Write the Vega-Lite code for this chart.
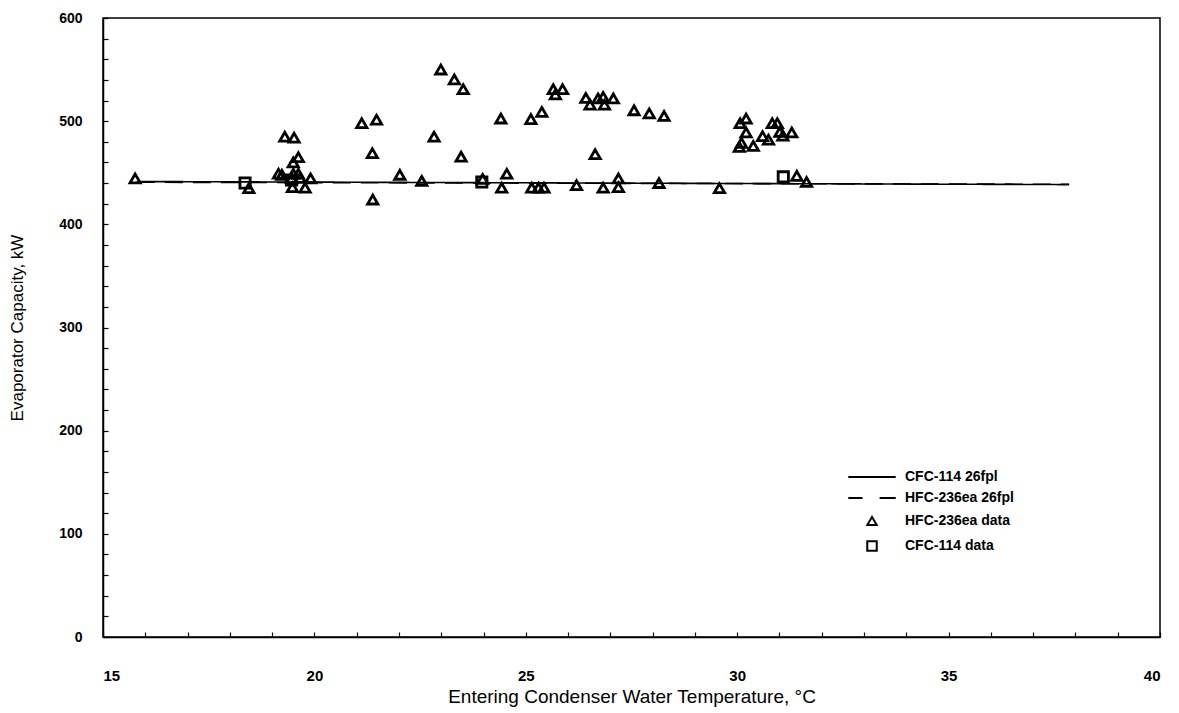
{
  "$schema": "https://vega.github.io/schema/vega-lite/v6.json",
  "width": 1057,
  "height": 619,
  "autosize": {"type": "none"},
  "padding": {"left": 103, "top": 18, "right": 19, "bottom": 76},
  "background": "white",
  "config": {
    "view": {"stroke": "black", "strokeWidth": 1.5},
    "font": "Liberation Sans",
    "axis": {
      "grid": false,
      "domainColor": "black",
      "domainWidth": 1.5,
      "tickColor": "black",
      "tickWidth": 1.2,
      "tickSize": -5,
      "labelColor": "black",
      "titleColor": "black",
      "labelFont": "Liberation Sans",
      "labelFontWeight": "bold",
      "titleFont": "Liberation Sans",
      "titleFontWeight": "normal"
    }
  },
  "datasets": {
    "points": [
      {"series": "HFC-236ea data", "temp": 15.76, "capacity": 444.5},
      {"series": "HFC-236ea data", "temp": 18.45, "capacity": 435},
      {"series": "HFC-236ea data", "temp": 19.30, "capacity": 485},
      {"series": "HFC-236ea data", "temp": 19.52, "capacity": 484},
      {"series": "HFC-236ea data", "temp": 19.62, "capacity": 465},
      {"series": "HFC-236ea data", "temp": 19.50, "capacity": 460},
      {"series": "HFC-236ea data", "temp": 19.15, "capacity": 449},
      {"series": "HFC-236ea data", "temp": 19.23, "capacity": 448},
      {"series": "HFC-236ea data", "temp": 19.50, "capacity": 449},
      {"series": "HFC-236ea data", "temp": 19.62, "capacity": 449},
      {"series": "HFC-236ea data", "temp": 19.46, "capacity": 444.5},
      {"series": "HFC-236ea data", "temp": 19.66, "capacity": 445},
      {"series": "HFC-236ea data", "temp": 19.48, "capacity": 436},
      {"series": "HFC-236ea data", "temp": 19.91, "capacity": 444.5},
      {"series": "HFC-236ea data", "temp": 19.78, "capacity": 435.5},
      {"series": "HFC-236ea data", "temp": 21.12, "capacity": 498},
      {"series": "HFC-236ea data", "temp": 21.47, "capacity": 501.5},
      {"series": "HFC-236ea data", "temp": 21.37, "capacity": 469},
      {"series": "HFC-236ea data", "temp": 21.38, "capacity": 424},
      {"series": "HFC-236ea data", "temp": 22.02, "capacity": 448},
      {"series": "HFC-236ea data", "temp": 22.54, "capacity": 442},
      {"series": "HFC-236ea data", "temp": 22.99, "capacity": 550},
      {"series": "HFC-236ea data", "temp": 23.31, "capacity": 540.5},
      {"series": "HFC-236ea data", "temp": 23.52, "capacity": 531},
      {"series": "HFC-236ea data", "temp": 22.83, "capacity": 485},
      {"series": "HFC-236ea data", "temp": 23.47, "capacity": 465.5},
      {"series": "HFC-236ea data", "temp": 24.41, "capacity": 502.5},
      {"series": "HFC-236ea data", "temp": 24.55, "capacity": 449},
      {"series": "HFC-236ea data", "temp": 24.43, "capacity": 435.5},
      {"series": "HFC-236ea data", "temp": 23.98, "capacity": 444},
      {"series": "HFC-236ea data", "temp": 25.12, "capacity": 502},
      {"series": "HFC-236ea data", "temp": 25.38, "capacity": 509},
      {"series": "HFC-236ea data", "temp": 25.65, "capacity": 531},
      {"series": "HFC-236ea data", "temp": 25.87, "capacity": 531},
      {"series": "HFC-236ea data", "temp": 25.70, "capacity": 526},
      {"series": "HFC-236ea data", "temp": 25.14, "capacity": 435.5},
      {"series": "HFC-236ea data", "temp": 25.30, "capacity": 435.5},
      {"series": "HFC-236ea data", "temp": 25.43, "capacity": 435.5},
      {"series": "HFC-236ea data", "temp": 26.20, "capacity": 438},
      {"series": "HFC-236ea data", "temp": 26.42, "capacity": 522.5},
      {"series": "HFC-236ea data", "temp": 26.52, "capacity": 516},
      {"series": "HFC-236ea data", "temp": 26.71, "capacity": 522},
      {"series": "HFC-236ea data", "temp": 26.83, "capacity": 523.5},
      {"series": "HFC-236ea data", "temp": 26.86, "capacity": 516},
      {"series": "HFC-236ea data", "temp": 27.07, "capacity": 522},
      {"series": "HFC-236ea data", "temp": 26.64, "capacity": 468},
      {"series": "HFC-236ea data", "temp": 26.83, "capacity": 435.5},
      {"series": "HFC-236ea data", "temp": 27.19, "capacity": 444.5},
      {"series": "HFC-236ea data", "temp": 27.19, "capacity": 436},
      {"series": "HFC-236ea data", "temp": 27.56, "capacity": 510.5},
      {"series": "HFC-236ea data", "temp": 27.92, "capacity": 507.5},
      {"series": "HFC-236ea data", "temp": 28.27, "capacity": 505},
      {"series": "HFC-236ea data", "temp": 28.15, "capacity": 440},
      {"series": "HFC-236ea data", "temp": 29.58, "capacity": 435},
      {"series": "HFC-236ea data", "temp": 30.07, "capacity": 498},
      {"series": "HFC-236ea data", "temp": 30.21, "capacity": 502.5},
      {"series": "HFC-236ea data", "temp": 30.21, "capacity": 489},
      {"series": "HFC-236ea data", "temp": 30.10, "capacity": 479},
      {"series": "HFC-236ea data", "temp": 30.05, "capacity": 475},
      {"series": "HFC-236ea data", "temp": 30.38, "capacity": 476},
      {"series": "HFC-236ea data", "temp": 30.60, "capacity": 485.5},
      {"series": "HFC-236ea data", "temp": 30.74, "capacity": 482},
      {"series": "HFC-236ea data", "temp": 30.83, "capacity": 498},
      {"series": "HFC-236ea data", "temp": 30.95, "capacity": 498},
      {"series": "HFC-236ea data", "temp": 31.01, "capacity": 489.5},
      {"series": "HFC-236ea data", "temp": 31.08, "capacity": 486},
      {"series": "HFC-236ea data", "temp": 31.29, "capacity": 489},
      {"series": "HFC-236ea data", "temp": 31.41, "capacity": 447},
      {"series": "HFC-236ea data", "temp": 31.64, "capacity": 441},
      {"series": "CFC-114 data", "temp": 18.36, "capacity": 440},
      {"series": "CFC-114 data", "temp": 19.46, "capacity": 443},
      {"series": "CFC-114 data", "temp": 23.96, "capacity": 441},
      {"series": "CFC-114 data", "temp": 31.09, "capacity": 446}
    ],
    "fits": [
      {"series": "CFC-114 26fpl", "temp": 15.8, "capacity": 441.5},
      {"series": "CFC-114 26fpl", "temp": 37.85, "capacity": 438.5},
      {"series": "HFC-236ea 26fpl", "temp": 15.8, "capacity": 440.8},
      {"series": "HFC-236ea 26fpl", "temp": 37.85, "capacity": 438.8}
    ]
  },
  "encoding": {
    "x": {
      "field": "temp",
      "type": "quantitative",
      "scale": {"domain": [15, 40], "nice": false, "zero": false},
      "axis": {
        "title": "Entering Condenser Water Temperature, °C",
        "values": [15,16,17,18,19,20,21,22,23,24,25,26,27,28,29,30,31,32,33,34,35,36,37,38,39,40],
        "labelExpr": "datum.value % 5 === 0 ? datum.label : ''",
        "labelFontSize": 15,
        "labelPadding": 36,
        "titleFontSize": 19,
        "titlePadding": 4
      }
    },
    "y": {
      "field": "capacity",
      "type": "quantitative",
      "scale": {"domain": [0, 600], "nice": false, "zero": true},
      "axis": {
        "title": "Evaporator Capacity, kW",
        "values": [0,20,40,60,80,100,120,140,160,180,200,220,240,260,280,300,320,340,360,380,400,420,440,460,480,500,520,540,560,580,600],
        "labelExpr": "datum.value % 100 === 0 ? datum.label : ''",
        "labelFontSize": 14,
        "labelPadding": 26,
        "titleFontSize": 17,
        "titlePadding": 32
      }
    }
  },
  "layer": [
    {
      "data": {"name": "fits"},
      "mark": {"type": "line", "color": "black", "strokeWidth": 1.6},
      "encoding": {
        "detail": {"field": "series"},
        "strokeDash": {
          "field": "series",
          "scale": {"domain": ["CFC-114 26fpl", "HFC-236ea 26fpl"], "range": [[1, 0], [18, 10]]},
          "legend": null
        }
      }
    },
    {
      "data": {"name": "points"},
      "mark": {"type": "point", "filled": false, "color": "black", "strokeWidth": 2.8, "size": 105, "opacity": 1},
      "encoding": {
        "shape": {
          "field": "series",
          "scale": {
            "domain": ["CFC-114 26fpl", "HFC-236ea 26fpl", "HFC-236ea data", "CFC-114 data"],
            "range": ["M-5,0L5,0", "M-5,0L-2,0M1.6,0L5,0", "triangle-up", "square"]
          },
          "legend": {
            "title": null,
            "orient": "none",
            "legendX": 762,
            "legendY": 452,
            "symbolSize": 90,
            "symbolStrokeWidth": 2,
            "symbolStrokeColor": "black",
            "symbolFillColor": "transparent",
            "labelOffset": 26,
            "labelFontSize": 14,
            "labelFontWeight": "bold",
            "labelFont": "Liberation Sans",
            "labelColor": "black",
            "rowPadding": 7
          }
        }
      }
    }
  ]
}
